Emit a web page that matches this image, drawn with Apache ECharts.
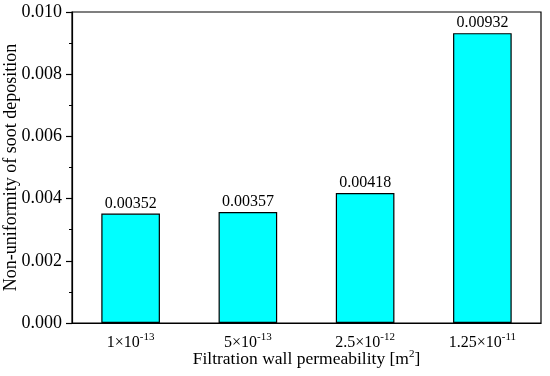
<!DOCTYPE html>
<html><head><meta charset="utf-8">
<script src="https://cdn.jsdelivr.net/npm/echarts@6/dist/echarts.min.js"></script>
<style>html,body{margin:0;padding:0;background:#fff}#c{width:550px;height:376px}</style>
</head><body><div id="c"></div>
<script>
const categories = ['1×10|-13', '5×10|-13', '2.5×10|-12', '1.25×10|-11'];
const values = [0.00352, 0.00357, 0.00418, 0.00932];
const labels = ['0.00352', '0.00357', '0.00418', '0.00932'];

const F = '"Liberation Serif","Times New Roman",serif';
const chart = echarts.init(document.getElementById('c'));
chart.setOption({
  animation: false,
  grid: {left: 72, right: 9, top: 12, bottom: 53, show: true, borderColor: '#000', borderWidth: 1.2,
         containLabel: false, outerBoundsMode: 'none'},
  xAxis: {
    type: 'category', data: categories,
    axisLine: {lineStyle: {color: '#000', width: 1.2}},
    axisTick: {alignWithLabel: true, length: 5, lineStyle: {color: '#000', width: 1.2}},
    axisLabel: {
      interval: 0, color: '#000', fontFamily: F, fontSize: 16, margin: 9,
      formatter: v => { const p = v.split('|'); return '{b|' + p[0] + '}{s|' + p[1] + '}'; },
      rich: {b: {fontFamily: F, fontSize: 16, color: '#000', verticalAlign: 'bottom'},
             s: {fontFamily: F, fontSize: 11, color: '#000', verticalAlign: 'top', padding: [0,0,8,0]}}
    },
    nameMoveOverlap: false,
    name: '{t|Filtration wall permeability [m}{s|2}{t|]}', nameLocation: 'middle', nameGap: 26,
    nameTextStyle: {rich: {t: {fontFamily: F, fontSize: 17.5, color: '#000'},
      s: {fontFamily: F, fontSize: 11, color: '#000', padding: [0,0,9,0]}}}
  },
  yAxis: {
    type: 'value', min: 0, max: 0.01, interval: 0.002,
    axisLine: {show: true, lineStyle: {color: '#000', width: 1.2}},
    axisTick: {show: true, length: 6, lineStyle: {color: '#000', width: 1.2}},
    minorTick: {show: true, splitNumber: 2, length: 3, lineStyle: {color: '#000', width: 1}},
    splitLine: {show: false},
    axisLabel: {color: '#000', fontFamily: F, fontSize: 18, margin: 10, formatter: v => v.toFixed(3)},
    nameMoveOverlap: false,
    name: 'Non-uniformity of soot deposition', nameLocation: 'middle', nameGap: 52,
    nameTextStyle: {fontFamily: F, fontSize: 18, color: '#000'}
  },
  series: [{
    type: 'bar', data: values, barWidth: '50%',
    itemStyle: {color: '#00FFFF', borderColor: '#000', borderWidth: 1.2},
    label: {show: true, position: 'top', distance: 2, color: '#000', fontFamily: F, fontSize: 16,
      formatter: p => labels[p.dataIndex]}
  }]
});
</script></body></html>
